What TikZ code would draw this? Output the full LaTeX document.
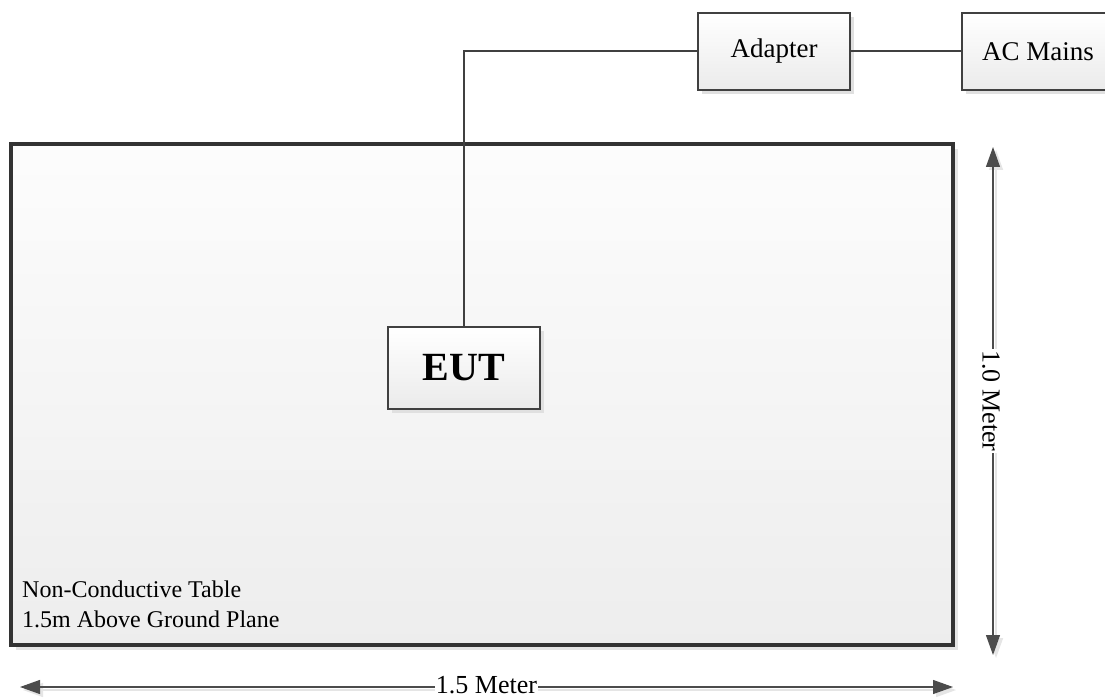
\documentclass[tikz,border=0pt]{standalone}
\usepackage{fontspec}
\setmainfont{Liberation Serif}
\usetikzlibrary{shadows,arrows.meta}

\tikzset{
  unit/.style={draw=black!75, line width=1.2pt, top color=white, bottom color=black!8,
    minimum width=152pt, minimum height=77pt, inner sep=0pt,
    font=\fontsize{27}{32}\selectfont,
    drop shadow={shadow xshift=4pt, shadow yshift=-4pt, fill=black!12, opacity=1}},
  tablebox/.style={draw=black!80, line width=4pt, top color=black!1, bottom color=black!7,
    minimum width=942pt, minimum height=501pt,
    drop shadow={shadow xshift=5pt, shadow yshift=-5pt, fill=black!10, opacity=1}},
  wire/.style={draw=black!75, line width=2pt},
  dimline/.style={draw=black!70, line width=1.2pt, {Triangle[length=20pt,width=14pt]}-{Triangle[length=20pt,width=14pt]},
    preaction={draw=black!10, line width=1.5pt, transform canvas={xshift=3pt,yshift=-3pt}}},
  dimlabel/.style={fill=white, inner sep=1pt, font=\fontsize{26}{30}\selectfont}
}

\begin{document}
\begin{tikzpicture}[x=1pt,y=1pt]
	\useasboundingbox (0,0) rectangle (1105,697);
	\fill[white] (0,0) rectangle (1105,697);
	% table
	\node[tablebox] (table) at (482,302.5) {};
	\node[anchor=south west, align=left, inner sep=0pt, font=\fontsize{24}{30}\selectfont] (tabletext) at (22,69) {Non-Conductive Table\\1.5m Above Ground Plane};
	% units
	\node[unit, minimum height=82pt, font=\bfseries\fontsize{40}{44}\selectfont] (eut) at (464,329) {EUT};
	\node[unit] (adapter) at (774,645.5) {Adapter};
	\node[unit] (mains) at (1038,645.5) {AC Mains};
	\draw[wire] (eut.north) |- (adapter.west);
	\draw[wire] (adapter.east) -- (mains.west);
	% dimensions
	\coordinate (vtop) at (993,550);
	\coordinate (vbot) at (993,42);
	\coordinate (hleft) at (20,10);
	\coordinate (hright) at (953,10);
	\draw[dimline] (vtop) -- node[dimlabel, rotate=-90, yshift=-2pt] (vlabel) {1.0 Meter} (vbot);
	\draw[dimline] (hleft) -- node[dimlabel, anchor=base, yshift=-6pt] (hlabel) {1.5 Meter} (hright);
\end{tikzpicture}
\end{document}
